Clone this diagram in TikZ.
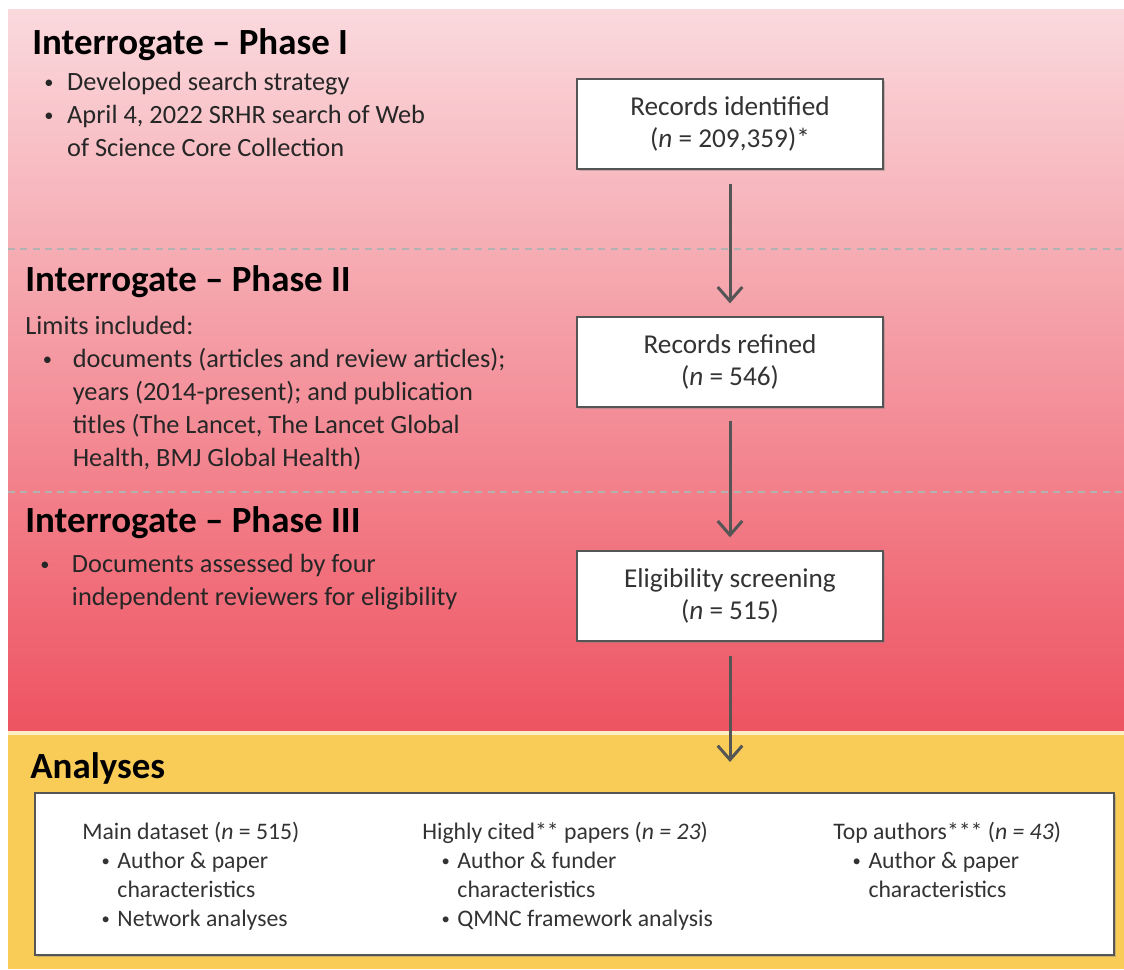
\documentclass[tikz,border=0pt]{standalone}
\usepackage{fontspec}
\setmainfont{Carlito}
\usetikzlibrary{arrows.meta,shadows}
\definecolor{pinktop}{RGB}{250,217,221}
\definecolor{pinkmid}{RGB}{245,158,166}
\definecolor{redbottom}{RGB}{238,83,97}
\definecolor{bandyellow}{RGB}{249,204,88}
\definecolor{edgegray}{RGB}{85,85,85}
\newcommand{\itemdot}[1]{\makebox[#1][l]{\raisebox{0.2ex}{\scalebox{0.7}{\textbullet}}}}
\tikzstyle{recbox}=[draw=edgegray, line width=1.5pt, fill=white, minimum width=6.12cm, minimum height=1.8cm, align=center, text=black!80, font=\fontsize{15.5}{18.2}\selectfont, drop shadow={shadow xshift=1.3pt, shadow yshift=-1.3pt, opacity=0.4}]
\tikzstyle{anabox}=[draw=edgegray, line width=1.5pt, fill=white, minimum width=21.58cm, minimum height=3.24cm, drop shadow={shadow xshift=1.3pt, shadow yshift=-1.3pt, opacity=0.4}]
\tikzstyle{phasehead}=[anchor=west, inner sep=0pt, font=\bfseries\fontsize{21}{24}\selectfont]
\tikzstyle{phasetext}=[anchor=north west, inner sep=0pt, align=left, text=black!85, font=\fontsize{15}{18.8}\selectfont]
\tikzstyle{coltext}=[anchor=north west, inner sep=0pt, align=left, text=black!80, font=\fontsize{13.5}{16.5}\selectfont]
\tikzstyle{flow}=[draw=edgegray, line width=1.7pt, -{Straight Barb[length=8pt,width=14pt]}]
\tikzstyle{phasesep}=[draw=gray!60, line width=0.6pt, dash pattern=on 4pt off 3pt]

\begin{document}
\begin{tikzpicture}[x=0.02cm, y=-0.02cm]
            \useasboundingbox (0,0) rectangle (1124,969);
            % bands
            \fill[white] (0,0) rectangle (1124,969);
            \shade[top color=pinktop, middle color=pinkmid, bottom color=redbottom] (8,10) rectangle (1124,731);
            \fill[bandyellow!35!white] (8,731) rectangle (1124,735);
            \fill[bandyellow] (8,735) rectangle (1124,969);
            \draw[phasesep] (8,249) -- (1124,249);
            \draw[phasesep] (8,492) -- (1124,492);

            % phase texts
            \node [phasehead] (headI) at (32,45) {Interrogate – Phase I};
            \node [phasetext] (textI) at (44,72) {\itemdot{13pt}Developed search strategy\\
                \itemdot{13pt}April 4, 2022 SRHR search of Web\\
                \hspace*{13pt}of Science Core Collection};
            \node [phasehead] (headII) at (25,282) {Interrogate – Phase II};
            \node [phasetext] (textII) at (25,316) {Limits included:\\
                \hspace*{10pt}\itemdot{17pt}documents (articles and review articles);\\
                \hspace*{27pt}years (2014-present); and publication\\
                \hspace*{27pt}titles (The Lancet, The Lancet Global\\
                \hspace*{27pt}Health, BMJ Global Health)};
            \node [phasehead] (headIII) at (25,523) {Interrogate – Phase III};
            \node [phasetext] (textIII) at (40,554) {\itemdot{18pt}Documents assessed by four\\
                \hspace*{18pt}independent reviewers for eligibility};

            % flow boxes
            \node [recbox] (ident) at (730,124) {Records identified\\(\textit{n} = 209,359)*};
            \node [recbox, below of=ident, node distance=4.76cm] (refine) {Records refined\\(\textit{n} = 546)};
            \node [recbox, below of=refine, node distance=4.68cm] (screen) {Eligibility screening\\(\textit{n} = 515)};
            \coordinate (anatip) at (730,762);
            \path[flow, shorten <=8pt, shorten >=7pt] (ident) edge (refine);
            \path[flow, shorten <=7pt, shorten >=7pt] (refine) edge (screen);
            \path[flow, shorten <=8pt] (screen) edge (anatip);

            % analyses
            \node [phasehead] (headana) at (30,768) {Analyses};
            \node [anabox] (analysis) at (574.5,874) {};
            \node [coltext] (colmain) at (82,822) {Main dataset (\textit{n} = 515)\\
                \hspace*{11pt}\itemdot{9pt}Author \& paper\\
                \hspace*{20pt}characteristics\\
                \hspace*{11pt}\itemdot{9pt}Network analyses};
            \node [coltext] (colcited) at (422,822) {Highly cited** papers (\textit{n = 23})\\
                \hspace*{11pt}\itemdot{9pt}Author \& funder\\
                \hspace*{20pt}characteristics\\
                \hspace*{11pt}\itemdot{9pt}QMNC framework analysis};
            \node [coltext] (colauthors) at (833,822) {Top authors*** (\textit{n = 43})\\
                \hspace*{11pt}\itemdot{9pt}Author \& paper\\
                \hspace*{20pt}characteristics};
        \end{tikzpicture}
\end{document}
